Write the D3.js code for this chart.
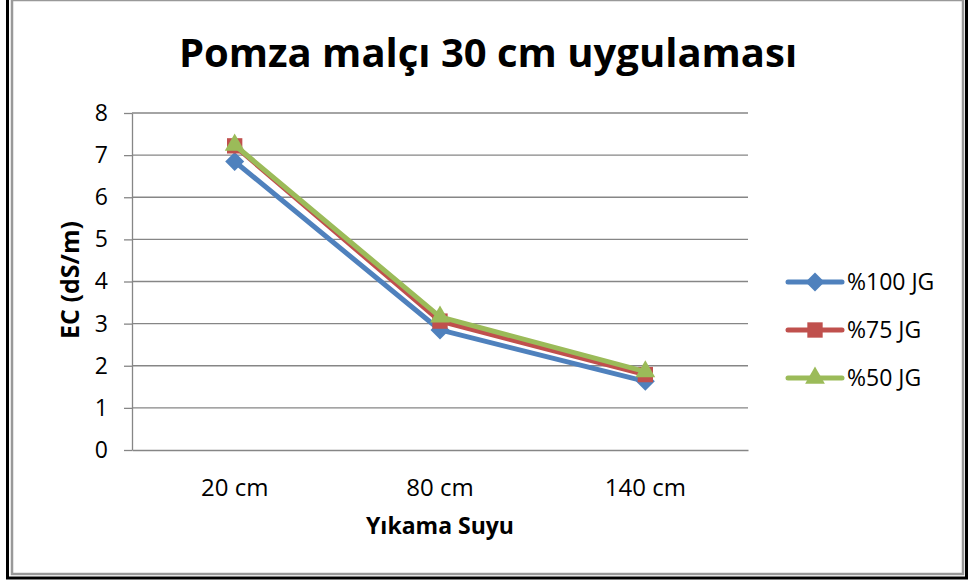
<!DOCTYPE html>
<html>
<head>
<meta charset="utf-8">
<script src="https://cdn.jsdelivr.net/npm/d3@7"></script>
<style>
  body { margin: 0; background: #fff; }
  text { font-family: "Open Sans", sans-serif; fill: #000; }
</style>
</head>
<body>
<svg id="chart"></svg>
<script>
const categories = ['20 cm', '80 cm', '140 cm'];
const seriesNames = ['%100 JG', '%75 JG', '%50 JG'];
const seriesColors = ['#4F81BD', '#C0504D', '#9BBB59'];
const seriesSymbols = [d3.symbolDiamond2, d3.symbolSquare2, d3.symbolTriangle2];
const values100 = [6.85, 2.85, 1.63];
const values75 = [7.22, 3.06, 1.79];
const values50 = [7.24, 3.16, 1.86];
const yTicks = [0, 1, 2, 3, 4, 5, 6, 7, 8];

const series = seriesNames.map((name, i) => ({
  name,
  color: seriesColors[i],
  symbol: seriesSymbols[i],
  size: [230, 300, 280][i],
  values: [values100, values75, values50][i]
}));

const width = 968, height = 581;
const margin = {top: 113, right: 220, bottom: 131, left: 132};

const svg = d3.select('#chart')
  .attr('width', width)
  .attr('height', height);

// outer frame: black shadow then gray border
svg.append('rect')
  .attr('x', 7.5).attr('y', -2).attr('width', 959).attr('height', 580)
  .attr('fill', 'none').attr('stroke', '#000').attr('stroke-width', 3);
svg.append('rect')
  .attr('x', 12).attr('y', 0).attr('width', 951).attr('height', 574)
  .attr('fill', '#fff').attr('stroke', '#999').attr('stroke-width', 2.5);

const x = d3.scaleBand()
  .domain(categories)
  .range([margin.left, width - margin.right]);

const y = d3.scaleLinear()
  .domain([0, 8])
  .range([height - margin.bottom, margin.top]);

// gridlines
svg.append('g')
  .selectAll('line')
  .data(yTicks.filter(d => d > 0))
  .join('line')
  .attr('x1', margin.left).attr('x2', width - margin.right)
  .attr('y1', d => y(d)).attr('y2', d => y(d))
  .attr('stroke', '#868686').attr('stroke-width', 1.3);

// y axis
const yAxisG = svg.append('g')
  .attr('transform', `translate(${margin.left},0)`)
  .call(d3.axisLeft(y).tickValues(yTicks).tickSize(8).tickPadding(16).tickSizeOuter(0));
yAxisG.select('.domain').attr('stroke', '#868686').attr('stroke-width', 1.3);
yAxisG.selectAll('.tick line').attr('stroke', '#868686').attr('stroke-width', 1.3);
yAxisG.selectAll('.tick text').style('font-size', '23px').style('font-family', '"Open Sans", sans-serif');

// x axis
const xAxisG = svg.append('g')
  .attr('transform', `translate(0,${y(0)})`)
  .call(d3.axisBottom(x).tickSize(0).tickPadding(29).tickSizeOuter(0));
xAxisG.select('.domain').attr('stroke', '#868686').attr('stroke-width', 1.3);
xAxisG.selectAll('.tick text').style('font-size', '24px').style('font-family', '"Open Sans", sans-serif');

// title
svg.append('text')
  .attr('x', 488).attr('y', 67)
  .attr('text-anchor', 'middle')
  .style('font-size', '40px').style('font-weight', 'bold')
  .text('Pomza malçı 30 cm uygulaması');

svg.append('text')
  .attr('x', 440).attr('y', 534)
  .attr('text-anchor', 'middle')
  .style('font-size', '23px').style('font-weight', 'bold')
  .text('Yıkama Suyu');

svg.append('text')
  .attr('transform', 'translate(79,280) rotate(-90)')
  .attr('text-anchor', 'middle')
  .style('font-size', '25px').style('font-weight', 'bold')
  .text('EC (dS/m)');

// lines and markers
const line = d3.line()
  .x((d, i) => x(categories[i]) + x.bandwidth() / 2)
  .y(d => y(d));

const seriesG = svg.append('g')
  .selectAll('g')
  .data(series)
  .join('g');

seriesG.append('path')
  .attr('d', d => line(d.values))
  .attr('fill', 'none')
  .attr('stroke', d => d.color)
  .attr('stroke-width', 5)
  .attr('stroke-linejoin', 'round');

seriesG.selectAll('path.marker')
  .data(d => d.values.map((v, i) => ({v, i, s: d})))
  .join('path')
  .attr('class', 'marker')
  .attr('transform', d => `translate(${x(categories[d.i]) + x.bandwidth() / 2},${y(d.v)})`)
  .attr('d', d => d3.symbol(d.s.symbol, d.s.size)())
  .attr('fill', d => d.s.color);

// legend
const legend = svg.append('g')
  .selectAll('g')
  .data(series)
  .join('g')
  .attr('transform', (d, i) => `translate(788,${282 + i * 48})`);

legend.append('line')
  .attr('x1', 0).attr('x2', 54)
  .attr('stroke', d => d.color)
  .attr('stroke-width', 5)
  .attr('stroke-linecap', 'round');

legend.append('path')
  .attr('transform', 'translate(27,0)')
  .attr('d', d => d3.symbol(d.symbol, d.size)())
  .attr('fill', d => d.color);

legend.append('text')
  .attr('x', 59).attr('y', 8)
  .style('font-size', '23px')
  .text(d => d.name);
</script>
</body>
</html>
